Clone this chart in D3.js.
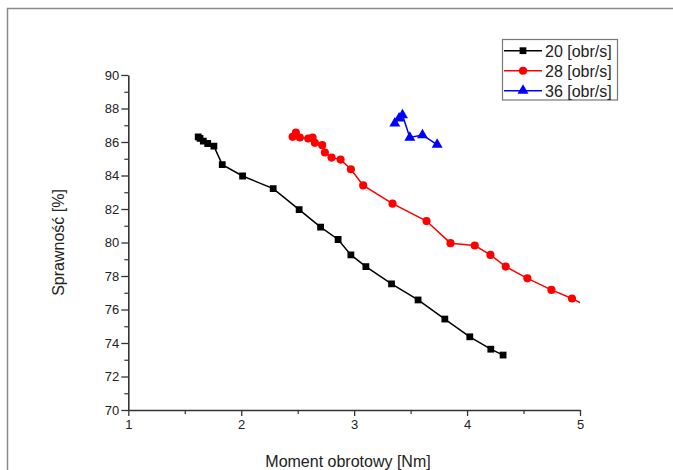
<!DOCTYPE html>
<html>
<head>
<meta charset="utf-8">
<script src="https://cdn.jsdelivr.net/npm/d3@7"></script>
<style>
  html, body { margin: 0; padding: 0; background: #fff; }
  svg { display: block; font-family: "Liberation Sans", Arial, sans-serif; }
</style>
</head>
<body>
<div id="chart"></div>
<script>
// Moment obrotowy [Nm] vs Sprawność [%]
const seriesNames = ['20 [obr/s]', '28 [obr/s]', '36 [obr/s]'];

const moment20 = [1.619, 1.635, 1.664, 1.703, 1.758, 1.832, 2.012, 2.283, 2.513, 2.703, 2.858, 2.971, 3.104, 3.331, 3.566, 3.803, 4.024, 4.21, 4.319];
const eff20    = [86.31, 86.21, 86.05, 85.91, 85.75, 84.65, 83.97, 83.22, 81.96, 80.92, 80.18, 79.26, 78.56, 77.53, 76.57, 75.43, 74.37, 73.63, 73.28];

const moment28 = [2.455, 2.484, 2.519, 2.593, 2.632, 2.652, 2.717, 2.741, 2.80, 2.88, 2.971, 3.08, 3.34, 3.641, 3.853, 4.068, 4.207, 4.342, 4.534, 4.747, 4.929, 5.15];
const eff28    = [86.31, 86.57, 86.27, 86.21, 86.27, 85.95, 85.81, 85.37, 85.07, 84.95, 84.37, 83.41, 82.32, 81.28, 79.96, 79.82, 79.26, 78.56, 77.86, 77.17, 76.66, 75.9];

const moment36 = [3.36, 3.398, 3.428, 3.493, 3.605, 3.735];
const eff36    = [87.11, 87.41, 87.6, 86.27, 86.41, 85.85];

const xTicks = [1, 2, 3, 4, 5];
const yTicks = [70, 72, 74, 76, 78, 80, 82, 84, 86, 88, 90];

const W = 673, H = 470;
const plot = { left: 128.3, right: 580, top: 75, bottom: 410 };

const svg = d3.select('#chart').append('svg')
  .attr('width', W).attr('height', H);

// outer frame
svg.append('rect')
  .attr('x', 7.5).attr('y', 8.5)
  .attr('width', W + 10).attr('height', H + 10)
  .attr('fill', 'none').attr('stroke', '#8a8a8a').attr('stroke-width', 1.5);

const x = d3.scaleLinear().domain([1, 5]).range([plot.left, plot.right]);
const y = d3.scaleLinear().domain([70, 90]).range([plot.bottom, plot.top]);

svg.append('defs').append('clipPath').attr('id', 'clip')
  .append('rect')
  .attr('x', plot.left).attr('y', plot.top - 10)
  .attr('width', plot.right - plot.left).attr('height', plot.bottom - plot.top + 10);

// Minor ticks
svg.append('g')
  .attr('transform', `translate(${plot.left},0)`)
  .call(d3.axisLeft(y).tickValues(d3.range(71, 90, 2)).tickSize(4).tickFormat(''))
  .call(g => g.select('.domain').remove())
  .call(g => g.selectAll('line').attr('stroke', '#333').attr('stroke-width', 1.2));

svg.append('g')
  .attr('transform', `translate(0,${plot.bottom})`)
  .call(d3.axisBottom(x).tickValues([1.5, 2.5, 3.5, 4.5]).tickSize(4).tickFormat(''))
  .call(g => g.select('.domain').remove())
  .call(g => g.selectAll('line').attr('stroke', '#333').attr('stroke-width', 1.2));

// Major axes
svg.append('g')
  .attr('transform', `translate(${plot.left},0)`)
  .call(d3.axisLeft(y).tickValues(yTicks).tickSize(7).tickSizeOuter(0).tickPadding(2).tickFormat(d3.format('d')))
  .call(g => g.select('.domain').attr('stroke', '#333').attr('stroke-width', 1.6))
  .call(g => g.selectAll('line').attr('stroke', '#333').attr('stroke-width', 1.3))
  .call(g => g.selectAll('text').attr('fill', '#222').style('font-size', '13px'));

svg.append('g')
  .attr('transform', `translate(0,${plot.bottom})`)
  .call(d3.axisBottom(x).tickValues(xTicks).tickSize(6).tickSizeOuter(0).tickPadding(4).tickFormat(d3.format('d')))
  .call(g => g.select('.domain').attr('stroke', '#333').attr('stroke-width', 1.6))
  .call(g => g.selectAll('line').attr('stroke', '#333').attr('stroke-width', 1.3))
  .call(g => g.selectAll('text').attr('fill', '#222').style('font-size', '13px'));

// Axis labels
svg.append('text')
  .attr('text-anchor', 'middle')
  .attr('transform', `translate(64,${(plot.top + plot.bottom) / 2}) rotate(-90)`)
  .attr('fill', '#222').style('font-size', '16px')
  .text('Sprawność [%]');

svg.append('text')
  .attr('text-anchor', 'middle')
  .attr('x', 348).attr('y', 467)
  .attr('fill', '#222').style('font-size', '16px')
  .text('Moment obrotowy [Nm]');

// Series
const series = [
  { name: seriesNames[0], xs: moment20, ys: eff20, color: '#000000', sym: d3.symbolSquare, size: 46 },
  { name: seriesNames[1], xs: moment28, ys: eff28, color: '#ff0000', sym: d3.symbolCircle, size: 52 },
  { name: seriesNames[2], xs: moment36, ys: eff36, color: '#0000ff', sym: d3.symbolTriangle, size: 52 }
];

const line = d3.line().x(d => x(d[0])).y(d => y(d[1]));
const plotG = svg.append('g').attr('clip-path', 'url(#clip)');

series.forEach(s => {
  const pts = s.xs.map((v, i) => [v, s.ys[i]]);
  plotG.append('path')
    .datum(pts)
    .attr('d', line)
    .attr('fill', 'none')
    .attr('stroke', s.color)
    .attr('stroke-width', 1.5);

  plotG.selectAll(null)
    .data(pts)
    .enter()
    .append('path')
    .attr('d', d3.symbol().type(s.sym).size(s.size))
    .attr('transform', d => `translate(${x(d[0])},${y(d[1])})`)
    .attr('fill', s.color);
});

// Legend
const legend = svg.append('g');
legend.append('rect')
  .attr('x', 502.5).attr('y', 39.5)
  .attr('width', 115).attr('height', 60.5)
  .attr('fill', '#fff').attr('stroke', '#777').attr('stroke-width', 1.2);

series.forEach((s, i) => {
  const ly = 50.7 + i * 20;
  legend.append('line')
    .attr('x1', 504).attr('x2', 542)
    .attr('y1', ly).attr('y2', ly)
    .attr('stroke', s.color).attr('stroke-width', 1.5);
  legend.append('path')
    .attr('d', d3.symbol().type(s.sym).size(s.size))
    .attr('transform', `translate(523,${ly})`)
    .attr('fill', s.color);
  legend.append('text')
    .attr('x', 545).attr('y', ly + 6)
    .attr('fill', '#222').style('font-size', '16px')
    .text(s.name);
});
</script>
</body>
</html>
